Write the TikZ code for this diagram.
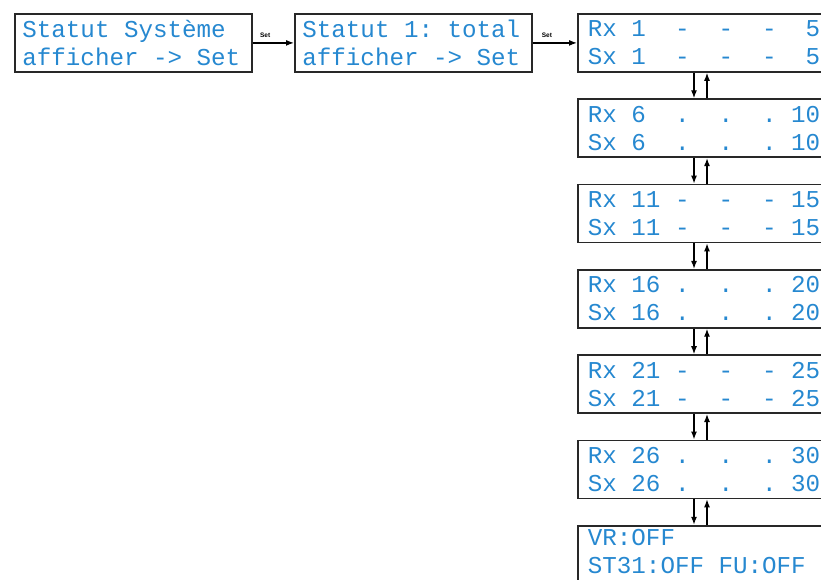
\documentclass[tikz,border=0pt]{standalone}
\usepackage{fontspec}
\usepackage{tikz}
\usetikzlibrary{arrows.meta}
\newfontfamily\lcdfont{Liberation Mono}
\newfontfamily\tagfont{Liberation Sans}
\definecolor{lcdblue}{RGB}{38,136,208}
\definecolor{boxgrey}{RGB}{40,40,40}

\begin{document}
\begin{tikzpicture}[x=1pt,y=-1pt,
    screen/.style={draw=boxgrey, line width=1.8pt, anchor=north west, align=left,
      inner xsep=10pt, inner ysep=0pt, minimum height=58pt, text=lcdblue,
      font=\lcdfont\fontsize{24.2}{28}\selectfont,
      execute at begin node={\spaceskip=0.6em\xspaceskip=0.6em\hyphenpenalty=10000\relax}},
    topscreen/.style={screen, inner xsep=7.5pt, text width=222pt},
    colscreen/.style={screen, text width=236pt},
    link/.style={draw=black, line width=1.3pt, -{Latex[length=8pt,width=6pt]}},
    settag/.style={font=\tagfont\bfseries\fontsize{6.5}{6.5}\selectfont, inner sep=1pt,
      above, yshift=4pt}]
    \useasboundingbox (0,0) rectangle (821,579);
    \clip (0,0) rectangle (821,579);
    % top row
    \node[topscreen] (sys) at (14,13) {Statut Système\\afficher -> Set};
    \node[topscreen] (tot) at (294,13) {Statut 1: total\\afficher -> Set};
    % right column
    \foreach \txt [count=\i] in {{Rx~1~~-~~-~~-~~5\\Sx~1~~-~~-~~-~~5},
        {Rx~6~~.~~.~~.~10\\Sx~6~~.~~.~~.~10},
        {Rx~11~-~~-~~-~15\\Sx~11~-~~-~~-~15},
        {Rx~16~.~~.~~.~20\\Sx~16~.~~.~~.~20},
        {Rx~21~-~~-~~-~25\\Sx~21~-~~-~~-~25},
        {Rx~26~.~~.~~.~30\\Sx~26~.~~.~~.~30},
        {\raisebox{6pt}{VR:OFF}\\\raisebox{6pt}{ST31:OFF FU:OFF}}}
      \node[colscreen] (rx\i) at (577,{13+85.3*(\i-1)}) {\txt};
    \draw[link] (sys.east) -- node[settag, pos=0.3] {Set} (tot.west);
    \draw[link] (tot.east) -- node[settag, pos=0.32] {Set} (tot.east -| rx1.west);
    \foreach \i [evaluate=\i as \j using int(\i+1)] in {1,...,6} {
      \draw[link] ([xshift=117pt]rx\i.south west) -- ([xshift=117pt]rx\j.north west);
      \draw[link] ([xshift=130pt]rx\j.north west) -- ([xshift=130pt]rx\i.south west);
    }
\end{tikzpicture}
\end{document}
